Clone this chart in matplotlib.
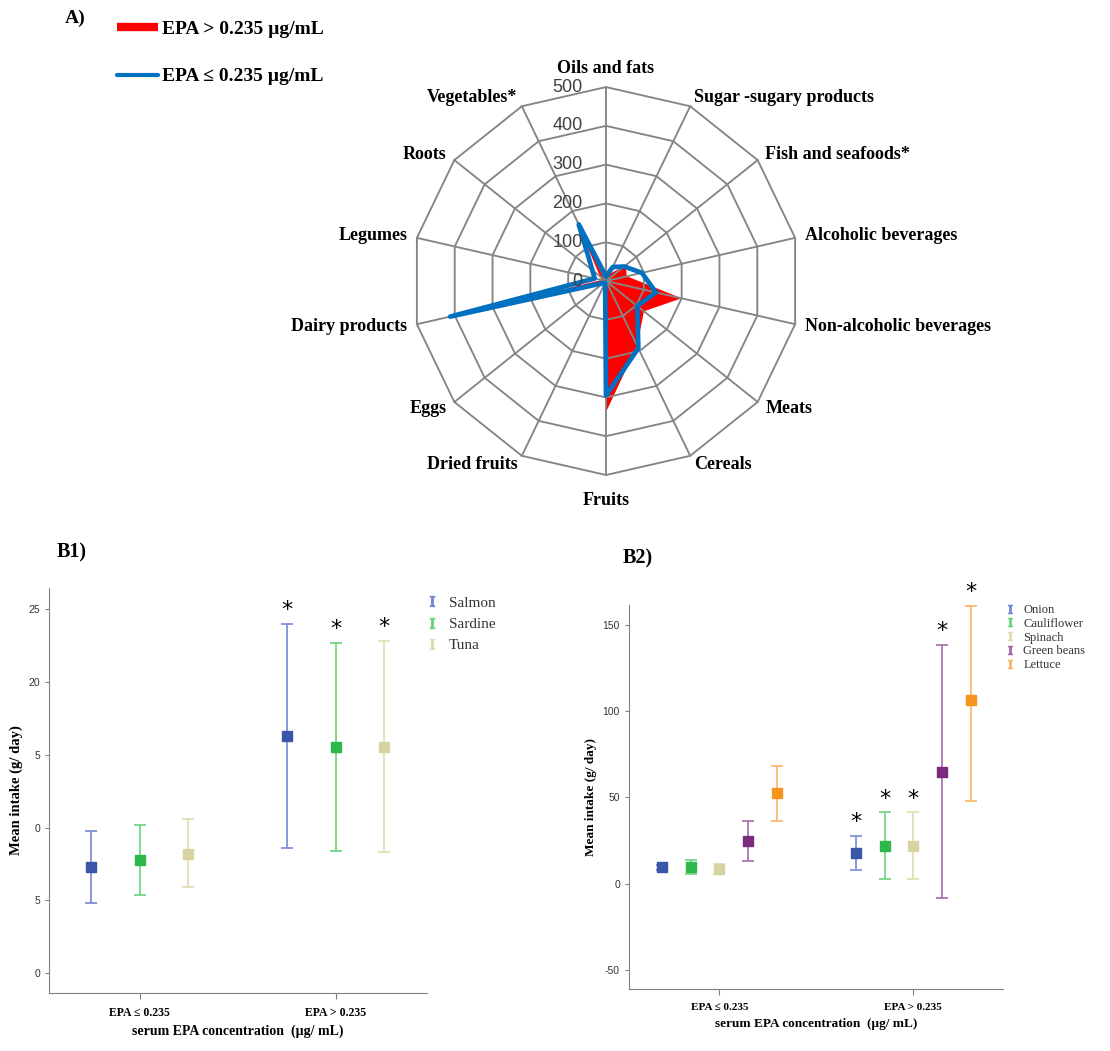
# EPA intake figure: radar of food groups (A) and interval plots of fish (B1) and vegetables (B2)

import numpy as np
import matplotlib
matplotlib.use('Agg')
import matplotlib.pyplot as plt
from matplotlib.lines import Line2D

plt.rcParams['font.family'] = ['Liberation Serif', 'DejaVu Serif']
plt.rcParams['axes.unicode_minus'] = False
plt.rcParams['mathtext.fontset'] = 'stix'

# ---- A) radar data (g/day)
categories = ['Oils and fats', 'Sugar -sugary products', 'Fish and seafoods*', 'Alcoholic beverages',
              'Non-alcoholic beverages', 'Meats', 'Cereals', 'Fruits', 'Dried fruits', 'Eggs',
              'Dairy products', 'Legumes', 'Roots', 'Vegetables*']
epa_high = [8, 20, 65, 55, 200, 125, 185, 338, 10, 10, 400, 12, 20, 210]
epa_low = [12, 40, 60, 95, 132, 103, 192, 295, 5, 8, 412, 30, 45, 162]
radar_ticks = [0, 100, 200, 300, 400, 500]
series_labels = ['EPA > 0.235 µg/mL', 'EPA ≤ 0.235 µg/mL']

# ---- B) interval plots
group_labels = ['EPA ≤ 0.235', 'EPA > 0.235']

fish = ['Salmon', 'Sardine', 'Tuna']
fish_mean_low = [7.3, 7.8, 8.2]
fish_lower_low = [4.8, 5.4, 5.9]
fish_upper_low = [9.8, 10.2, 10.6]
fish_mean_high = [16.3, 15.5, 15.5]
fish_lower_high = [8.6, 8.4, 8.3]
fish_upper_high = [24.0, 22.7, 22.8]
fish_ticks = [0, 5, 10, 15, 20, 25]
fish_ticklabels = ['0', '5', '0', '5', '20', '25']

veg = ['Onion', 'Cauliflower', 'Spinach', 'Green beans', 'Lettuce']
veg_mean_low = [9.6, 9.6, 8.3, 25.0, 52.3]
veg_lower_low = [8.2, 5.4, 5.4, 13.1, 36.2]
veg_upper_low = [11.0, 13.8, 11.5, 36.5, 68.3]
veg_mean_high = [17.7, 22.1, 22.1, 65.0, 106.7]
veg_lower_high = [7.7, 2.5, 2.5, -8.3, 48.1]
veg_upper_high = [27.9, 41.3, 41.3, 138.5, 161.0]
veg_ticks = [-50, 0, 50, 100, 150]

marker_colors = ['#3a56a8', '#2db84b', '#d8d3a0', '#7b2b7c', '#f7941d']
bar_colors = ['#7589d2', '#6bd37c', '#e0dbb0', '#a468aa', '#f9b466']

fig = plt.figure(figsize=(11.1, 10.51), dpi=100)

# ================= A) radar =================
ax = fig.add_axes([0.3712, 0.548, 0.3495, 0.3692], projection='polar')
ax.set_theta_zero_location('N')
ax.set_theta_direction(-1)
ax.set_ylim(0, 500)
ax.grid(False)
ax.spines['polar'].set_visible(False)
ax.set_xticks([])
ax.set_yticks([])
ax.patch.set_visible(False)

n = len(categories)
theta = np.arange(n) * 2 * np.pi / n
closed = np.append(theta, theta[0])

ax.fill(closed, np.append(epa_high, epa_high[0]), color='#ff0000', lw=0, zorder=1)
grid_col = '#858585'
for r in radar_ticks[1:]:
    ax.plot(closed, [r] * (n + 1), color=grid_col, lw=1.35, zorder=2, clip_on=False)
for t in theta:
    ax.plot([t, t], [0, radar_ticks[-1]], color=grid_col, lw=1.35, zorder=2, clip_on=False)
ax.plot(closed, np.append(epa_low, epa_low[0]), color='#0070c0', lw=3.4, zorder=3,
        solid_joinstyle='round', solid_capstyle='round')

for r in radar_ticks:
    ax.annotate(str(r), xy=(0, r), xytext=(-17, 0), textcoords='offset points',
                ha='right', va='center', fontsize=13, color='#404040',
                family='Liberation Sans', zorder=4)

for t, name in zip(theta, categories):
    s, c = np.sin(t), np.cos(t)
    if abs(s) < 0.01:
        ha = 'center'
        va = 'bottom' if c > 0 else 'top'
        off = (0, 7 if c > 0 else -12)
    else:
        ha = 'left' if s > 0 else 'right'
        va = 'center'
        off = (s * 7, c * 7)
    ax.annotate(name, xy=(t, radar_ticks[-1]), xytext=off, textcoords='offset points',
                ha=ha, va=va, fontsize=13, fontweight='bold', annotation_clip=False)

fig.text(0.068, 0.983, 'A)', ha='center', va='center', fontsize=14, fontweight='bold')
handles = [Line2D([], [], color='#ff0000', lw=6, solid_capstyle='butt'),
           Line2D([], [], color='#0070c0', lw=3, solid_capstyle='round')]
fig.legend(handles, series_labels, loc='upper left', bbox_to_anchor=(0.1054, 0.981),
           frameon=False, prop={'weight': 'bold', 'size': 14}, handlelength=2.1,
           handletextpad=0.2, borderpad=0, borderaxespad=0, labelspacing=1.55)


# ================= B) interval plots =================
def interval_plot(ax, names, means, lowers, uppers, step, legend_anchor, legend_size, legend_space):
    k = len(names)
    offsets = (np.arange(k) - (k - 1) / 2) * step
    for j in range(k):
        xs = [g + offsets[j] for g in range(len(group_labels))]
        ys = [means[g][j] for g in range(len(group_labels))]
        lo = [means[g][j] - lowers[g][j] for g in range(len(group_labels))]
        hi = [uppers[g][j] - means[g][j] for g in range(len(group_labels))]
        ax.errorbar(xs, ys, yerr=[lo, hi], fmt='none', ecolor=bar_colors[j], elinewidth=1.2,
                    capsize=4.0, capthick=1.2, zorder=2)
        ax.plot(xs, ys, 's', color=marker_colors[j], ms=7.5, zorder=3)
        # significance star above the high-EPA group
        ax.annotate('*', xy=(xs[1], uppers[1][j]), xytext=(0, 10), textcoords='offset points',
                    ha='center', va='center', fontsize=16, family='DejaVu Sans')

    ax.set_xticks(range(len(group_labels)))
    ax.set_xticklabels(group_labels, fontsize=8.5, fontweight='bold')
    ax.set_xlabel('serum EPA concentration  (µg/ mL)', fontsize=10, fontweight='bold', labelpad=4)
    ax.set_ylabel('Mean intake (g/ day)', fontsize=10.5, fontweight='bold')
    for side in ['top', 'right']:
        ax.spines[side].set_visible(False)
    for side in ['left', 'bottom']:
        ax.spines[side].set_color('#808080')
    ax.tick_params(axis='y', labelsize=7.5, length=3, color='#808080', labelcolor='#333333')
    ax.tick_params(axis='x', length=4, color='#808080', pad=6)
    for lab in ax.get_yticklabels():
        lab.set_family('Liberation Sans')
    # legend keys are small "I" error-bar glyphs
    keys = [Line2D([], [], ls='none', marker='$\\mathrm{I}$', color=bar_colors[j],
                   ms=legend_size * 0.65) for j in range(k)]
    ax.legend(keys, names, loc='upper left', bbox_to_anchor=legend_anchor,
              bbox_transform=fig.transFigure, frameon=False, fontsize=legend_size,
              handlelength=0.6, handletextpad=0.8, borderpad=0, borderaxespad=0,
              labelspacing=legend_space, labelcolor='#333333')


ax1 = fig.add_axes([0.0441, 0.0552, 0.3405, 0.3853])
ax1.set_yticks(fish_ticks)
ax1.set_yticklabels(fish_ticklabels)
interval_plot(ax1, fish,
              [fish_mean_low, fish_mean_high], [fish_lower_low, fish_lower_high],
              [fish_upper_low, fish_upper_high], 0.248, (0.3851, 0.4330), 11, 0.5)
ax1.set_xlim(-0.463, 1.466)
ax1.set_ylim(-1.35, 26.44)
fig.text(0.065, 0.474, 'B1)', ha='center', va='center', fontsize=14.5, fontweight='bold')

ax2 = fig.add_axes([0.5667, 0.0587, 0.3367, 0.3657])
ax2.set_yticks(veg_ticks)
interval_plot(ax2, veg,
              [veg_mean_low, veg_mean_high], [veg_lower_low, veg_lower_high],
              [veg_upper_low, veg_upper_high], 0.148, (0.9063, 0.4252), 9, 0.14)
ax2.set_xlim(-0.465, 1.461)
ax2.set_ylim(-61.2, 161.5)
ax2.xaxis.label.set_size(9.5)
ax2.yaxis.label.set_size(9.5)
for lab in ax2.get_xticklabels():
    lab.set_fontsize(8)
fig.text(0.575, 0.469, 'B2)', ha='center', va='center', fontsize=14.5, fontweight='bold')

plt.savefig('out.png', dpi=100)
plt.close()
